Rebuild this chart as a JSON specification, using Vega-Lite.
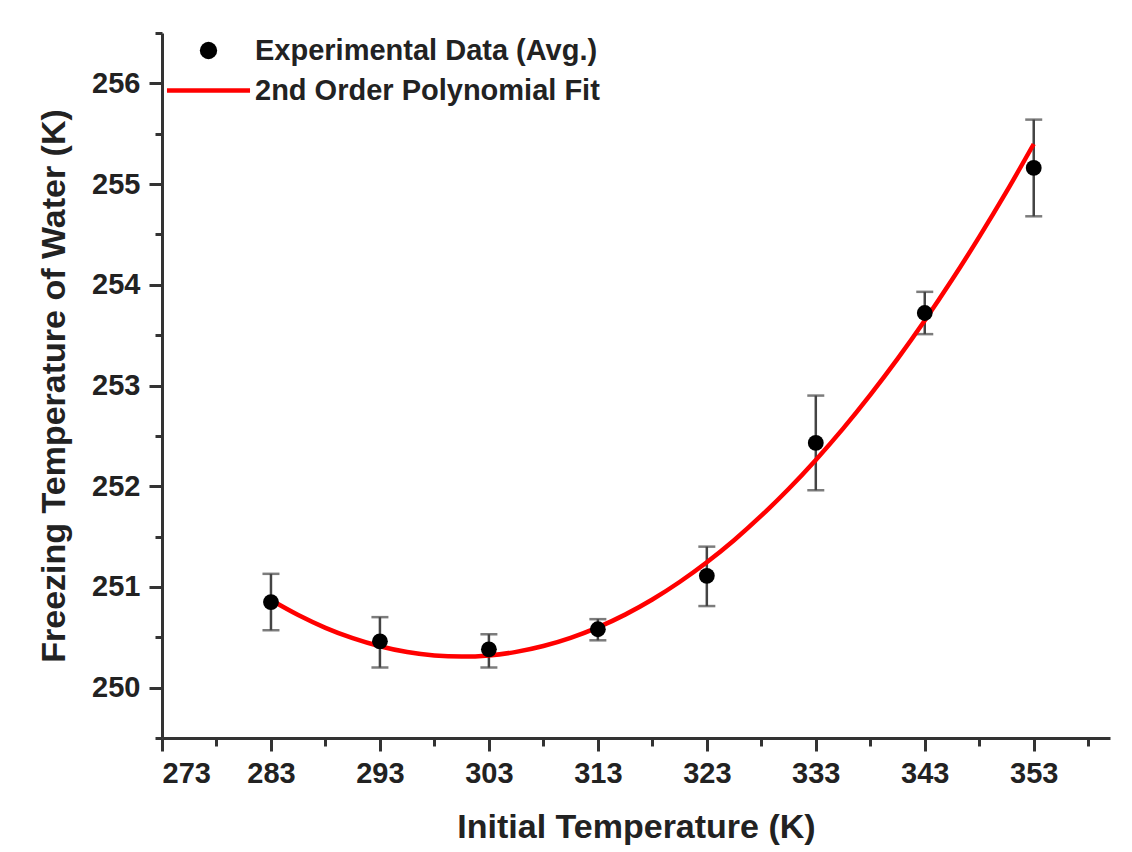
{
  "$schema": "https://vega.github.io/schema/vega-lite/v6.json",
  "width": 948,
  "height": 705,
  "autosize": {"type": "none"},
  "padding": {"left": 162, "top": 33, "right": 22, "bottom": 114},
  "background": "white",
  "config": {
    "view": {"stroke": null},
    "font": "Liberation Sans",
    "axis": {
      "grid": false,
      "domainColor": "#333333",
      "domainWidth": 3,
      "tickColor": "#333333",
      "tickWidth": 3,
      "labelFont": "Liberation Sans",
      "labelFontWeight": "bold",
      "labelFontSize": 29,
      "labelColor": "#222222",
      "titleFont": "Liberation Sans",
      "titleFontWeight": "bold",
      "titleFontSize": 34,
      "titleColor": "#222222"
    }
  },
  "datasets": {
    "obs": [
      {"T": 283, "F": 250.85, "lo": 250.57, "hi": 251.13, "series": "Experimental Data (Avg.)"},
      {"T": 293, "F": 250.46, "lo": 250.20, "hi": 250.70, "series": "Experimental Data (Avg.)"},
      {"T": 303, "F": 250.38, "lo": 250.20, "hi": 250.53, "series": "Experimental Data (Avg.)"},
      {"T": 313, "F": 250.58, "lo": 250.47, "hi": 250.68, "series": "Experimental Data (Avg.)"},
      {"T": 323, "F": 251.11, "lo": 250.81, "hi": 251.40, "series": "Experimental Data (Avg.)"},
      {"T": 333, "F": 252.43, "lo": 251.96, "hi": 252.90, "series": "Experimental Data (Avg.)"},
      {"T": 343, "F": 253.72, "lo": 253.51, "hi": 253.93, "series": "Experimental Data (Avg.)"},
      {"T": 353, "F": 255.16, "lo": 254.68, "hi": 255.64, "series": "Experimental Data (Avg.)"}
    ],
    "fit": [
      {"T": 283, "F": 250.870, "series": "2nd Order Polynomial Fit"},
      {"T": 285.5, "F": 250.721, "series": "2nd Order Polynomial Fit"},
      {"T": 288, "F": 250.594, "series": "2nd Order Polynomial Fit"},
      {"T": 290.5, "F": 250.491, "series": "2nd Order Polynomial Fit"},
      {"T": 293, "F": 250.411, "series": "2nd Order Polynomial Fit"},
      {"T": 295.5, "F": 250.353, "series": "2nd Order Polynomial Fit"},
      {"T": 298, "F": 250.319, "series": "2nd Order Polynomial Fit"},
      {"T": 300.5, "F": 250.308, "series": "2nd Order Polynomial Fit"},
      {"T": 303, "F": 250.320, "series": "2nd Order Polynomial Fit"},
      {"T": 305.5, "F": 250.355, "series": "2nd Order Polynomial Fit"},
      {"T": 308, "F": 250.413, "series": "2nd Order Polynomial Fit"},
      {"T": 310.5, "F": 250.494, "series": "2nd Order Polynomial Fit"},
      {"T": 313, "F": 250.598, "series": "2nd Order Polynomial Fit"},
      {"T": 315.5, "F": 250.725, "series": "2nd Order Polynomial Fit"},
      {"T": 318, "F": 250.875, "series": "2nd Order Polynomial Fit"},
      {"T": 320.5, "F": 251.049, "series": "2nd Order Polynomial Fit"},
      {"T": 323, "F": 251.245, "series": "2nd Order Polynomial Fit"},
      {"T": 325.5, "F": 251.464, "series": "2nd Order Polynomial Fit"},
      {"T": 328, "F": 251.707, "series": "2nd Order Polynomial Fit"},
      {"T": 330.5, "F": 251.972, "series": "2nd Order Polynomial Fit"},
      {"T": 333, "F": 252.261, "series": "2nd Order Polynomial Fit"},
      {"T": 335.5, "F": 252.572, "series": "2nd Order Polynomial Fit"},
      {"T": 338, "F": 252.907, "series": "2nd Order Polynomial Fit"},
      {"T": 340.5, "F": 253.264, "series": "2nd Order Polynomial Fit"},
      {"T": 343, "F": 253.645, "series": "2nd Order Polynomial Fit"},
      {"T": 345.5, "F": 254.049, "series": "2nd Order Polynomial Fit"},
      {"T": 348, "F": 254.476, "series": "2nd Order Polynomial Fit"},
      {"T": 350.5, "F": 254.925, "series": "2nd Order Polynomial Fit"},
      {"T": 353, "F": 255.398, "series": "2nd Order Polynomial Fit"}
    ]
  },
  "layer": [
    {
      "data": {"name": "obs"},
      "mark": {"type": "rule", "color": "#444444", "strokeWidth": 2.5},
      "encoding": {
        "x": {"field": "T", "type": "quantitative", "scale": {"domain": [273, 360], "nice": false, "zero": false},
          "axis": {"orient": "bottom", "values": [278, 288, 298, 308, 318, 328, 338, 348, 358], "labels": false, "title": null, "tickSize": 8, "domain": false}},
        "y": {"field": "lo", "type": "quantitative", "scale": {"domain": [249.5, 256.5], "nice": false, "zero": false},
          "axis": {"orient": "left", "values": [249.5, 250.5, 251.5, 252.5, 253.5, 254.5, 255.5, 256.5], "labels": false, "title": null, "tickSize": 7, "domain": false}},
        "y2": {"field": "hi"}
      }
    },
    {
      "data": {"name": "obs"},
      "mark": {"type": "tick", "orient": "horizontal", "color": "#444444", "size": 17, "thickness": 2.5},
      "encoding": {
        "x": {"field": "T", "type": "quantitative", "axis": null},
        "y": {"field": "lo", "type": "quantitative", "axis": null}
      }
    },
    {
      "data": {"name": "obs"},
      "mark": {"type": "tick", "orient": "horizontal", "color": "#444444", "size": 17, "thickness": 2.5},
      "encoding": {
        "x": {"field": "T", "type": "quantitative", "axis": null},
        "y": {"field": "hi", "type": "quantitative", "axis": null}
      }
    },
    {
      "data": {"name": "fit"},
      "mark": {"type": "line", "strokeWidth": 4.5, "interpolate": "monotone"},
      "encoding": {
        "x": {"field": "T", "type": "quantitative",
          "axis": {"orient": "bottom", "values": [273, 283, 293, 303, 313, 323, 333, 343, 353], "title": "Initial Temperature (K)", "tickSize": 13, "labelPadding": 8, "titlePadding": 22}},
        "y": {"field": "F", "type": "quantitative",
          "axis": {"orient": "left", "values": [250, 251, 252, 253, 254, 255, 256], "title": "Freezing Temperature of Water (K)", "tickSize": 13, "labelPadding": 9, "titlePadding": 20}},
        "color": {"field": "series", "type": "nominal",
          "scale": {"domain": ["Experimental Data (Avg.)", "2nd Order Polynomial Fit"], "range": ["#000000", "#ff0000"]},
          "legend": {
            "orient": "none", "legendX": 32, "legendY": 3, "title": null,
            "labelFont": "Liberation Sans", "labelFontWeight": "bold", "labelFontSize": 29, "labelColor": "#222222",
            "labelLimit": 700,
            "symbolSize": 6900, "labelOffset": 32, "rowPadding": 10, "symbolStrokeWidth": 4.5,
            "encode": {"symbols": {"update": {
              "shape": {"signal": "datum.value === '2nd Order Polynomial Fit' ? 'stroke' : 'circle'"},
              "size": {"signal": "datum.value === '2nd Order Polynomial Fit' ? 6900 : 300"},
              "fill": {"signal": "datum.value === '2nd Order Polynomial Fit' ? 'transparent' : '#000000'"},
              "stroke": {"signal": "datum.value === '2nd Order Polynomial Fit' ? '#ff0000' : '#000000'"},
              "strokeWidth": {"signal": "datum.value === '2nd Order Polynomial Fit' ? 4.5 : 0"},
              "opacity": {"value": 1}
            }}}
          }}
      }
    },
    {
      "data": {"name": "obs"},
      "mark": {"type": "point", "filled": true, "size": 250, "opacity": 1},
      "encoding": {
        "x": {"field": "T", "type": "quantitative", "axis": null},
        "y": {"field": "F", "type": "quantitative", "axis": null},
        "color": {"field": "series", "type": "nominal"}
      }
    }
  ],
  "resolve": {"axis": {"x": "independent", "y": "independent"}}
}
